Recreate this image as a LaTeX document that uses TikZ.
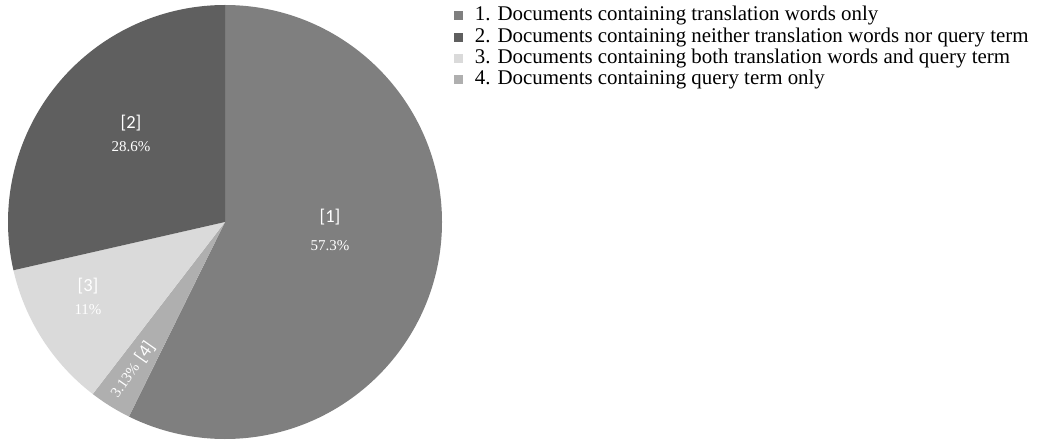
\documentclass[tikz,border=0pt]{standalone}
\usepackage{fontspec}
\setmainfont{Liberation Serif}
\newfontfamily\calibri{Carlito}
\usepackage{tikz}
\usetikzlibrary{positioning}
\definecolor{sliceA}{HTML}{7F7F7F}
\definecolor{sliceB}{HTML}{5F5F5F}
\definecolor{sliceC}{HTML}{DADADA}
\definecolor{sliceD}{HTML}{AFAFAF}
\tikzstyle{pie}=[
  x=1pt,y=1pt,font=\fontsize{15}{17}\selectfont
]
\tikzstyle{tag}=[
  text=white,inner sep=0pt,font=\calibri\fontsize{18.5}{20}\selectfont
]
\tikzstyle{pct}=[
  text=white,inner sep=0pt,font=\fontsize{15}{17}\selectfont
]
\tikzstyle{key}=[
  minimum size=9pt,inner sep=0pt
]
\tikzstyle{keytext}=[
  inner sep=0pt,anchor=west,font=\fontsize{20.9}{23}\selectfont
]

\begin{document}
\begin{tikzpicture}[pie]
    \useasboundingbox (0,0) rectangle (1040,439);
    \coordinate (c) at (225,217);
    % slices, clockwise from the top
    \fill[sliceA] (c) -- ++(90:217) arc (90:-116.28:217) -- cycle;
    \fill[sliceD] (c) -- ++(-116.28:217) arc (-116.28:-127.55:217) -- cycle;
    \fill[sliceC] (c) -- ++(-127.55:217) arc (-127.55:-167.15:217) -- cycle;
    \fill[sliceB] (c) -- ++(-167.15:217) arc (-167.15:-270:217) -- cycle;
    % labels
    \node (tag1) [tag] at (330,222) {[1]};
    \node (pct1) [pct] at (330,193) {57.3\%};
    \node (tag2) [tag] at (131,316) {[2]};
    \node (pct2) [pct] at (131,292) {28.6\%};
    \node (tag3) [tag] at (88,153) {[3]};
    \node (pct3) [pct] at (88,129) {11\%};
    \node (pct4) [pct,rotate=55] at (125,59) {3.13\%};
    \node (tag4) [tag,rotate=55] at (145,87) {[4]};
    % legend
    \node (key1) [key,fill=sliceA] at (458,423) {};
    \node (key2) [key,fill=sliceB,below=11.7pt of key1] {};
    \node (key3) [key,fill=sliceC,below=11.7pt of key2] {};
    \node (key4) [key,fill=sliceD,below=11.7pt of key3] {};
    \node (txt1) [keytext,right=12pt of key1] {1. Documents containing translation words only};
    \node (txt2) [keytext,right=12pt of key2] {2. Documents containing neither translation words nor query term};
    \node (txt3) [keytext,right=12pt of key3] {3. Documents containing both translation words and query term};
    \node (txt4) [keytext,right=12pt of key4] {4. Documents containing query term only};
\end{tikzpicture}
\end{document}
